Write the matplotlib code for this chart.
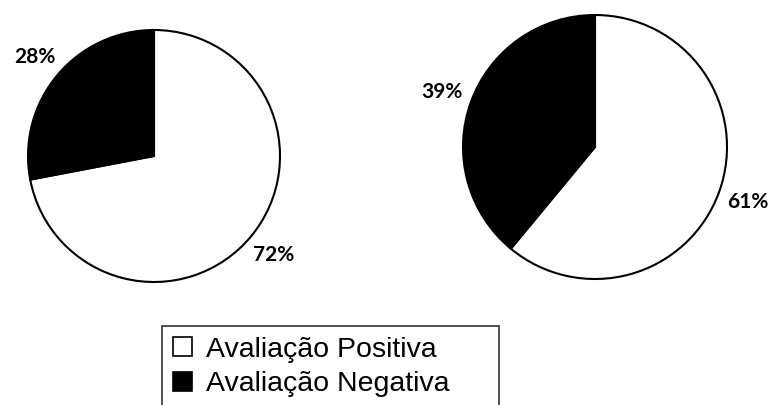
import matplotlib
matplotlib.use('Agg')
import matplotlib.pyplot as plt

plt.rcParams['font.family'] = 'Liberation Sans'

labels = ['Avaliação Positiva', 'Avaliação Negativa']
left_values = [72, 28]
right_values = [61, 39]
colors = ['white', 'black']

fig = plt.figure(figsize=(7.68, 4.05), dpi=100)
fig.patch.set_facecolor('white')

# pie axes placed by hand (pixel boxes from the reference)
ax1 = fig.add_axes([28 / 768, 123 / 405, 252 / 768, 252 / 405])
ax2 = fig.add_axes([463 / 768, 126 / 405, 264 / 768, 264 / 405])

wedges = None
for ax, vals in [(ax1, left_values), (ax2, right_values)]:
    w, t, at = ax.pie(vals, colors=colors, startangle=90, counterclock=False,
                      autopct='%1.0f%%', pctdistance=1.23,
                      wedgeprops=dict(edgecolor='black', linewidth=1.5))
    for a in at:
        a.set_fontfamily('Lato')
        a.set_fontweight('bold')
        a.set_fontsize(15)
        a.set_color('black')
    ax.set_xlim(-1, 1)
    ax.set_ylim(-1, 1)
    ax.set_aspect('equal')
    if wedges is None:
        wedges = w

# legend box runs off the bottom edge, as in the reference
leg = fig.legend(wedges, labels, loc='upper left', mode='expand',
                 bbox_to_anchor=(162 / 768, 0, 337 / 768, 1 - 326 / 405),
                 fontsize=20.5, frameon=True, fancybox=False, shadow=False,
                 handlelength=0.67, handleheight=0.65, handletextpad=0.49,
                 borderpad=0.38, labelspacing=0.3, borderaxespad=0)
leg.get_frame().set_edgecolor('black')
leg.get_frame().set_linewidth(1.2)
for p in leg.get_patches():
    p.set_edgecolor('black')
    p.set_linewidth(1.2)

plt.savefig('out.png', dpi=100, facecolor='white')
plt.close()
